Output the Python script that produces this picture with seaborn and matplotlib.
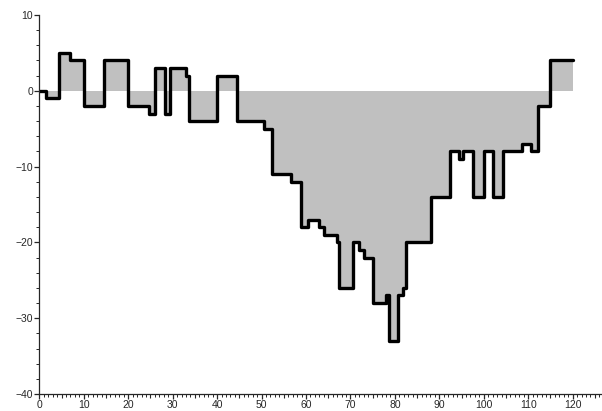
import numpy as np
import pandas as pd
import matplotlib
matplotlib.use("Agg")
import matplotlib.pyplot as plt
import seaborn as sns
from matplotlib.ticker import MultipleLocator, FixedLocator

# step edges (x where a new level starts) and levels
step_x = [0, 1.5, 4.5, 7, 10, 14.5, 20, 24.7, 26, 28.3, 29.4, 33, 33.7, 40, 44.5,
          50.6, 52.3, 56.6, 58.9, 60.5, 62.9, 64.1, 66.9, 67.5, 70.6, 72, 73.1,
          75.1, 77.9, 78.7, 80.8, 81.8, 82.5, 88.1, 92.4, 94.5, 95.3, 97.6, 100.1,
          102.1, 104.3, 108.5, 110.6, 112.3, 115, 120]
step_y = [0, -1, 5, 4, -2, 4, -2, -3, 3, -3, 3, 2, -4, 2, -4,
          -5, -11, -12, -18, -17, -18, -19, -20, -26, -20, -21, -22,
          -28, -27, -33, -27, -26, -20, -14, -8, -9, -8, -14, -8,
          -14, -8, -7, -8, -2, 4, 4]

df = pd.DataFrame({"x": step_x, "y": step_y})

sns.set_style("ticks")
plt.rcParams['font.family'] = ['Liberation Sans', 'DejaVu Sans']

fig = plt.figure(figsize=(6.02, 4.11), dpi=100)
ax = fig.add_axes([39.3 / 602, 17 / 411, (602 - 39.3) / 602, 379 / 411])

ax.fill_between(df["x"], 0, df["y"], step="post", color="#c0c0c0", linewidth=0)
sns.lineplot(data=df, x="x", y="y", drawstyle="steps-post", color="black",
             linewidth=2.4, ax=ax, estimator=None, sort=False)

ax.set_xlim(0, 126.6)
ax.set_ylim(-40, 10)
ax.set_xlabel("")
ax.set_ylabel("")
sns.despine(ax=ax)
for s in ["left", "bottom"]:
    ax.spines[s].set_linewidth(0.9)

ax.xaxis.set_major_locator(MultipleLocator(10))
ax.xaxis.set_minor_locator(MultipleLocator(1))
ax.yaxis.set_major_locator(MultipleLocator(10))
ax.yaxis.set_minor_locator(MultipleLocator(2))
ax.tick_params(axis="both", which="major", length=3.5, width=0.9, labelsize=7.5, pad=1, direction="out")
ax.tick_params(axis="x", which="major", pad=0.5)
ax.tick_params(axis="both", which="minor", length=2, width=0.7, direction="out")

# medium ticks at the 5s on x
ax5 = ax.secondary_xaxis("bottom")
ax5.xaxis.set_major_locator(FixedLocator(np.arange(5, 126, 10)))
ax5.tick_params(length=2.8, width=0.8, labelbottom=False)
ax5.spines["bottom"].set_visible(False)

fig.savefig("out.png", dpi=100)
